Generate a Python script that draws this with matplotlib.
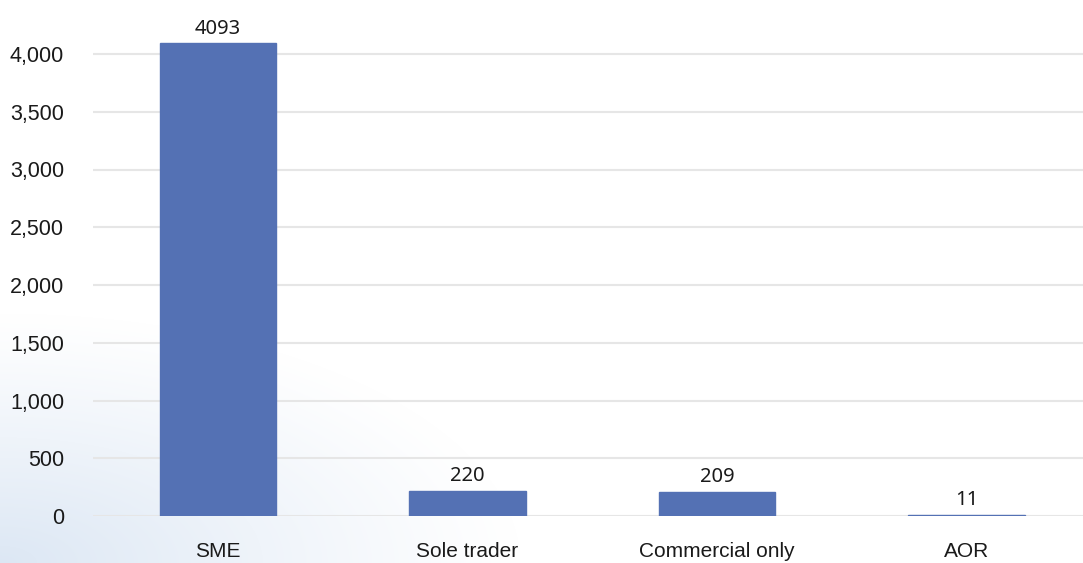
import numpy as np
import matplotlib
matplotlib.use("Agg")
import matplotlib.pyplot as plt

categories = ["SME", "Sole trader", "Commercial only", "AOR"]
counts = [4093, 220, 209, 11]
y_ticks = [0, 500, 1000, 1500, 2000, 2500, 3000, 3500, 4000]
y_tick_labels = ["0", "500", "1,000", "1,500", "2,000", "2,500", "3,000", "3,500", "4,000"]

W, H = 1083, 563
fig = plt.figure(figsize=(W / 100, H / 100), dpi=100)

# soft pale-blue haze in the lower-left corner of the page
bg = fig.add_axes([0, 0, 1, 1], zorder=0)
yy, xx = np.mgrid[0:H, 0:W]
d = np.sqrt((xx / 520.0) ** 2 + ((H - yy) / 250.0) ** 2)
a = np.clip(1 - d, 0, 1) ** 1.1 * 0.85
base = np.array([1.0, 1.0, 1.0])
tint = np.array([0.84, 0.89, 0.95])
img = base[None, None, :] * (1 - a[..., None]) + tint[None, None, :] * a[..., None]
bg.imshow(img, extent=[0, W, H, 0], aspect="auto", interpolation="bilinear")
bg.set_xlim(0, W)
bg.set_ylim(H, 0)
bg.axis("off")

# plot area in pixel terms: left 93, zero line at y=516, 57.75 px per 500
left_px, zero_px = 93.25, 516.0
px_per_unit = 57.75 / 500
ymax = 4400
slot = 249.5
ax = fig.add_axes([left_px / W, (H - zero_px) / H,
                   4 * slot / W, ymax * px_per_unit / H], zorder=1)
ax.patch.set_alpha(0)

x = np.arange(len(categories))
ax.bar(x, counts, width=0.465, color="#5471B4", edgecolor="#5471B4",
       linewidth=1.0, zorder=3)

for xi, v in zip(x, counts):
    ax.annotate(str(v), (xi, v), xytext=(0, 7), textcoords="offset points",
                ha="center", va="baseline", fontsize=14.5,
                family=["Noto Sans", "DejaVu Sans"], color="#1a1a1a")

ax.set_xlim(-0.5, 3.5)
ax.set_ylim(0, ymax)
ax.set_yticks(y_ticks)
ax.set_yticklabels(y_tick_labels, family="Liberation Sans", fontsize=15.5, color="#1a1a1a")
ax.set_xticks(x)
ax.set_xticklabels(categories, family="Liberation Sans", fontsize=15, color="#1a1a1a")
ax.tick_params(axis="y", length=0, pad=21)
ax.tick_params(axis="x", length=0, pad=19)
ax.grid(axis="y", color="#e6e6e6", linewidth=1.5, zorder=0)
for s in ax.spines.values():
    s.set_visible(False)

fig.savefig("out.png", dpi=100)
